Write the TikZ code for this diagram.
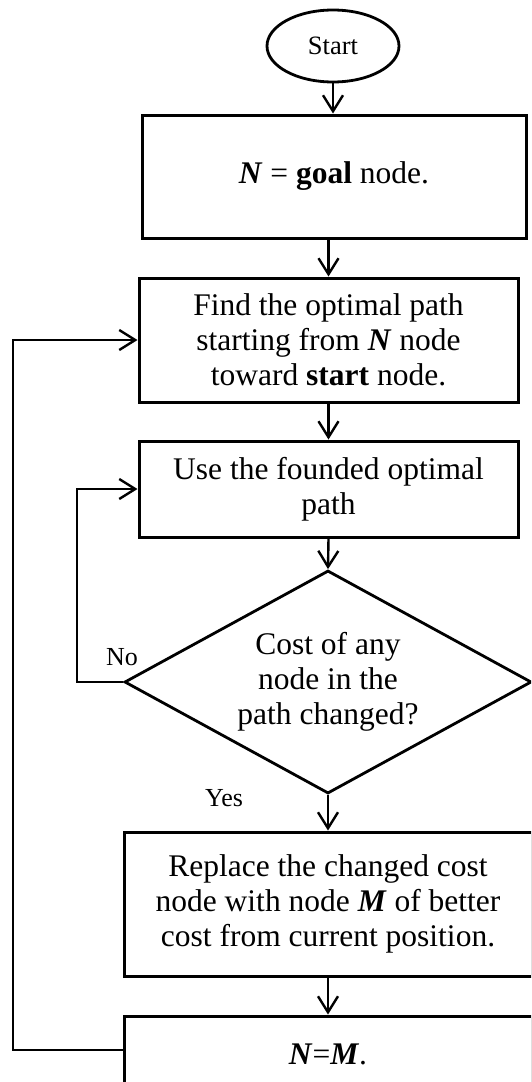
\documentclass[tikz,border=0pt]{standalone}
\usepackage{fontspec}
\setmainfont{Liberation Serif}
\usetikzlibrary{shapes.geometric,arrows.meta}
\newcommand{\bi}[1]{\textbf{\textit{#1}}}
\begin{document}
\begin{tikzpicture}[x=1pt,y=-1pt,
  box/.style={draw,line width=3pt,rectangle,inner sep=0pt,align=center,
    font=\fontsize{31.5}{35}\selectfont},
  arr/.style={line width=2.4pt,-{Straight Barb[length=16pt,width=20pt,line width=2.4pt]}},
  lnk/.style={line width=2.4pt}]
\useasboundingbox (0,0) rectangle (531,1082);
\clip (0,0) rectangle (531,1082);
\fill[white] (0,0) rectangle (531,1082);
\node[draw,ellipse,line width=2.8pt,minimum width=132pt,minimum height=72pt,inner sep=0pt,
  font=\fontsize{26.5}{30}\selectfont] (start) at (333,46) {Start};
\node[box,minimum width=384pt,minimum height=123pt] (goal) at (334,176.5)
  {\bi{N} = \textbf{goal} node.};
\node[box,minimum width=379pt,minimum height=124pt] (find) at (328.5,340)
  {Find the optimal path\\starting from \bi{N} node\\toward \textbf{start} node.};
\node[box,minimum width=379pt,minimum height=96pt] (use) at (328.5,489)
  {Use the founded optimal\\path};
\node[draw,diamond,line width=2.8pt,aspect=1.825,minimum width=407pt,minimum height=223pt,
  inner sep=0pt,align=center,font=\fontsize{31.5}{35}\selectfont] (cost) at (328,682)
  {Cost of any\\node in the\\path changed?};
\node[box,minimum width=408pt,minimum height=144pt] (repl) at (328,904)
  {Replace the changed cost\\node with node \bi{M} of better\\cost from current position.};
\node[box,minimum width=408pt,minimum height=76pt] (nm) at (328,1054)
  {\bi{N}=\bi{M}.};
\node[font=\fontsize{26}{30}\selectfont,inner sep=0pt] (no) at (122,657) {No};
\node[font=\fontsize{26}{30}\selectfont,inner sep=0pt] (yes) at (224,798) {Yes};
\coordinate (c1) at (77,682);
\coordinate (c2) at (77,489);
\coordinate (c3) at (13,1050);
\coordinate (c4) at (13,340);
\draw[arr] (start.south) -- (start.south |- goal.north);
\draw[arr] (goal.south -| find.north) -- (find.north);
\draw[arr] (find.south) -- (use.north);
\draw[arr] (use.south) -- (cost.north);
\draw[arr] (cost.south) -- (repl.north);
\draw[arr] (repl.south) -- (nm.north);
\draw[arr] (cost.west) -- (c1) -- (c2) -- (use.west);
\draw[arr] (nm.west |- c3) -- (c3) -- (c4) -- (find.west);
\end{tikzpicture}
\end{document}
